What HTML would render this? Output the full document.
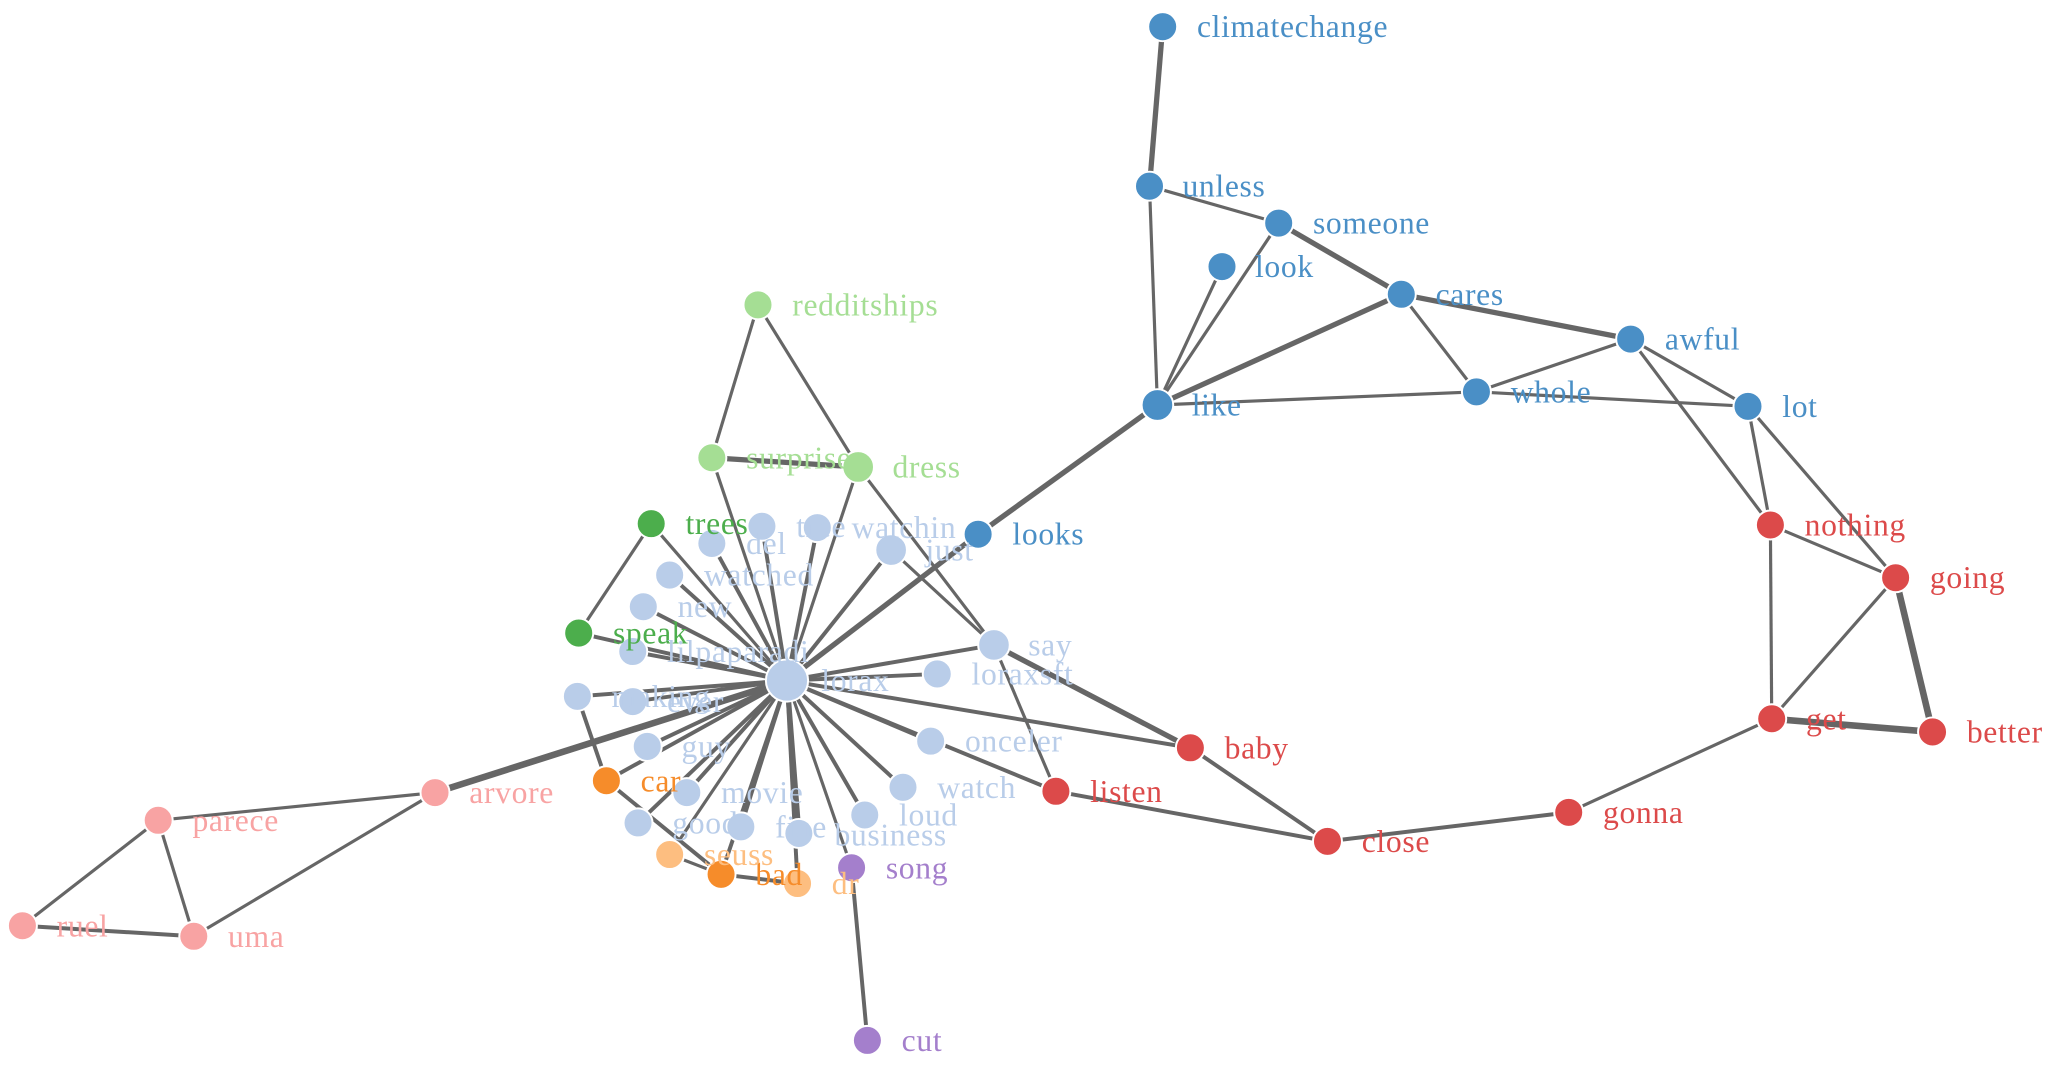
<!DOCTYPE html>
<html><head><meta charset="utf-8"><style>
html,body{margin:0;padding:0;background:#fff;}
svg{display:block}
text{font-family:"Liberation Serif",serif;font-size:24px;letter-spacing:0.5px}
</style></head><body>
<svg width="2067" height="1075" viewBox="0 0 1568 815" xmlns="http://www.w3.org/2000/svg">
<g stroke="#666" stroke-width="2.4" fill="none">
<line x1="882" y1="20" x2="872" y2="141" stroke-width="4"/>
<line x1="872" y1="141" x2="970" y2="169"/>
<line x1="872" y1="141" x2="878" y2="307"/>
<line x1="970" y1="169" x2="878" y2="307"/>
<line x1="927" y1="202" x2="878" y2="307"/>
<line x1="970" y1="169" x2="1063" y2="223" stroke-width="4"/>
<line x1="1063" y1="223" x2="878" y2="307" stroke-width="4"/>
<line x1="1063" y1="223" x2="1237" y2="257" stroke-width="4"/>
<line x1="1063" y1="223" x2="1120" y2="297"/>
<line x1="1237" y1="257" x2="1120" y2="297"/>
<line x1="1120" y1="297" x2="878" y2="307"/>
<line x1="1120" y1="297" x2="1326" y2="308"/>
<line x1="1237" y1="257" x2="1326" y2="308"/>
<line x1="1237" y1="257" x2="1343" y2="398"/>
<line x1="1326" y1="308" x2="1343" y2="398"/>
<line x1="1326" y1="308" x2="1438" y2="438"/>
<line x1="878" y1="307" x2="742" y2="405" stroke-width="4"/>
<line x1="742" y1="405" x2="597" y2="516" stroke-width="4"/>
<line x1="1343" y1="398" x2="1438" y2="438"/>
<line x1="1343" y1="398" x2="1344" y2="545"/>
<line x1="1438" y1="438" x2="1344" y2="545"/>
<line x1="1438" y1="438" x2="1466" y2="555" stroke-width="5"/>
<line x1="1344" y1="545" x2="1466" y2="555" stroke-width="5"/>
<line x1="1344" y1="545" x2="1190" y2="616"/>
<line x1="1190" y1="616" x2="1007" y2="638" stroke-width="3"/>
<line x1="1007" y1="638" x2="903" y2="567" stroke-width="3"/>
<line x1="1007" y1="638" x2="801" y2="600" stroke-width="3"/>
<line x1="903" y1="567" x2="754" y2="489" stroke-width="4"/>
<line x1="903" y1="567" x2="597" y2="516" stroke-width="3"/>
<line x1="801" y1="600" x2="754" y2="489"/>
<line x1="801" y1="600" x2="597" y2="516" stroke-width="3"/>
<line x1="575" y1="231" x2="540" y2="347"/>
<line x1="575" y1="231" x2="651" y2="354"/>
<line x1="540" y1="347" x2="651" y2="354" stroke-width="4"/>
<line x1="540" y1="347" x2="597" y2="516"/>
<line x1="651" y1="354" x2="597" y2="516"/>
<line x1="651" y1="354" x2="754" y2="489"/>
<line x1="494" y1="397" x2="439" y2="480"/>
<line x1="494" y1="397" x2="597" y2="516"/>
<line x1="439" y1="480" x2="597" y2="516" stroke-width="3"/>
<line x1="330" y1="601" x2="597" y2="516" stroke-width="5"/>
<line x1="330" y1="601" x2="120" y2="622"/>
<line x1="330" y1="601" x2="147" y2="710"/>
<line x1="120" y1="622" x2="17" y2="702"/>
<line x1="120" y1="622" x2="147" y2="710"/>
<line x1="17" y1="702" x2="147" y2="710" stroke-width="3"/>
<line x1="646" y1="658" x2="658" y2="789" stroke-width="3"/>
<line x1="646" y1="658" x2="597" y2="516"/>
<line x1="460" y1="592" x2="438" y2="528" stroke-width="3"/>
<line x1="460" y1="592" x2="597" y2="516" stroke-width="3"/>
<line x1="460" y1="592" x2="547" y2="663" stroke-width="3"/>
<line x1="508" y1="648" x2="547" y2="663"/>
<line x1="547" y1="663" x2="605" y2="670" stroke-width="3"/>
<line x1="605" y1="670" x2="597" y2="516" stroke-width="3"/>
<line x1="547" y1="663" x2="597" y2="516" stroke-width="3"/>
<line x1="508" y1="648" x2="597" y2="516"/>
<line x1="540" y1="412" x2="597" y2="516" stroke-width="3"/>
<line x1="578" y1="399" x2="597" y2="516" stroke-width="3"/>
<line x1="620" y1="400" x2="597" y2="516" stroke-width="3"/>
<line x1="676" y1="417" x2="597" y2="516" stroke-width="3"/>
<line x1="676" y1="417" x2="754" y2="489"/>
<line x1="508" y1="436" x2="597" y2="516" stroke-width="3"/>
<line x1="488" y1="460" x2="597" y2="516" stroke-width="3"/>
<line x1="480" y1="494" x2="597" y2="516" stroke-width="3"/>
<line x1="438" y1="528" x2="597" y2="516" stroke-width="3"/>
<line x1="480" y1="532" x2="597" y2="516" stroke-width="3"/>
<line x1="754" y1="489" x2="597" y2="516" stroke-width="3"/>
<line x1="711" y1="511" x2="597" y2="516" stroke-width="3"/>
<line x1="491" y1="566" x2="597" y2="516" stroke-width="3"/>
<line x1="706" y1="562" x2="597" y2="516" stroke-width="3"/>
<line x1="521" y1="601" x2="597" y2="516" stroke-width="3"/>
<line x1="484" y1="624" x2="597" y2="516" stroke-width="3"/>
<line x1="562" y1="627" x2="597" y2="516" stroke-width="3"/>
<line x1="606" y1="632" x2="597" y2="516" stroke-width="4"/>
<line x1="685" y1="597" x2="597" y2="516" stroke-width="3"/>
<line x1="656" y1="618" x2="597" y2="516" stroke-width="3"/>
</g>
<g stroke="#fff" stroke-width="1.5">
<g fill="#4a8fc6">
<circle cx="882" cy="20" r="11"/><circle cx="872" cy="141" r="11"/><circle cx="970" cy="169" r="11"/>
<circle cx="927" cy="202" r="11"/><circle cx="1063" cy="223" r="11"/><circle cx="1237" cy="257" r="11"/>
<circle cx="878" cy="307" r="12"/><circle cx="1120" cy="297" r="11"/><circle cx="1326" cy="308" r="11"/>
<circle cx="742" cy="405" r="11"/>
</g>
<g fill="#dc4a4a">
<circle cx="1343" cy="398" r="11"/><circle cx="1438" cy="438" r="11"/><circle cx="1344" cy="545" r="11"/>
<circle cx="1466" cy="555" r="11"/><circle cx="903" cy="567" r="11"/><circle cx="801" cy="600" r="11"/>
<circle cx="1007" cy="638" r="11"/><circle cx="1190" cy="616" r="11"/>
</g>
<g fill="#a5de94"><circle cx="575" cy="231" r="11"/><circle cx="540" cy="347" r="11"/><circle cx="651" cy="354" r="12"/></g>
<g fill="#4cae4c"><circle cx="494" cy="397" r="11"/><circle cx="439" cy="480" r="11"/></g>
<g fill="#f8a3a3"><circle cx="330" cy="601" r="11"/><circle cx="120" cy="622" r="11"/><circle cx="17" cy="702" r="11"/><circle cx="147" cy="710" r="11"/></g>
<g fill="#a47fcc"><circle cx="646" cy="658" r="11"/><circle cx="658" cy="789" r="11"/></g>
<g fill="#f68c2a"><circle cx="460" cy="592" r="11"/><circle cx="547" cy="663" r="11"/></g>
<g fill="#fdbe80"><circle cx="508" cy="648" r="11"/><circle cx="605" cy="670" r="11"/></g>
<g fill="#b9cde9">
<circle cx="540" cy="412" r="11"/><circle cx="578" cy="399" r="11"/><circle cx="620" cy="400" r="11"/>
<circle cx="676" cy="417" r="12"/><circle cx="508" cy="436" r="11"/><circle cx="488" cy="460" r="11"/>
<circle cx="480" cy="494" r="11"/><circle cx="438" cy="528" r="11"/><circle cx="480" cy="532" r="11"/>
<circle cx="754" cy="489" r="12"/><circle cx="711" cy="511" r="11"/><circle cx="491" cy="566" r="11"/>
<circle cx="706" cy="562" r="11"/><circle cx="521" cy="601" r="11"/><circle cx="484" cy="624" r="11"/>
<circle cx="562" cy="627" r="11"/><circle cx="606" cy="632" r="11"/><circle cx="685" cy="597" r="11"/>
<circle cx="656" cy="618" r="11"/><circle cx="597" cy="516" r="16"/>
</g>
</g>
<g fill="#4a8fc6">
<text x="908" y="28">climatechange</text><text x="897" y="149">unless</text><text x="996" y="177">someone</text>
<text x="952" y="210">look</text><text x="1089" y="231">cares</text><text x="1263" y="265">awful</text>
<text x="904" y="315">like</text><text x="1146" y="305">whole</text><text x="1352" y="316">lot</text>
<text x="768" y="413">looks</text>
</g>
<g fill="#dc4a4a">
<text x="1369" y="406">nothing</text><text x="1464" y="446">going</text><text x="1370" y="553">get</text>
<text x="1492" y="563">better</text><text x="929" y="575">baby</text><text x="827" y="608">listen</text>
<text x="1033" y="646">close</text><text x="1216" y="624">gonna</text>
</g>
<g fill="#a5de94"><text x="601" y="239">redditships</text><text x="566" y="355">surprise</text><text x="677" y="362">dress</text></g>
<g fill="#4cae4c"><text x="520" y="405">trees</text><text x="465" y="488">speak</text></g>
<g fill="#f8a3a3"><text x="356" y="609">arvore</text><text x="146" y="630">parece</text><text x="43" y="710">ruel</text><text x="173" y="718">uma</text></g>
<g fill="#a47fcc"><text x="672" y="666">song</text><text x="684" y="797">cut</text></g>
<g fill="#f68c2a"><text x="486" y="600">car</text><text x="573" y="671">bad</text></g>
<g fill="#fdbe80"><text x="534" y="656">seuss</text><text x="631" y="678">dr</text></g>
<g fill="#b9cde9">
<text x="566" y="420">del</text><text x="604" y="407">tree</text><text x="646" y="408">watchin</text>
<text x="702" y="425">just</text><text x="534" y="444">watched</text><text x="514" y="468">new</text>
<text x="506" y="502">lilpaparadi</text><text x="464" y="536">making</text><text x="506" y="540">ever</text>
<text x="780" y="497">say</text><text x="737" y="519">loraxsft</text><text x="517" y="574">guy</text>
<text x="732" y="570">onceler</text><text x="547" y="609">movie</text><text x="510" y="632">good</text>
<text x="588" y="635">fine</text><text x="633" y="641">business</text><text x="711" y="605">watch</text>
<text x="682" y="626">loud</text><text x="623" y="524">lorax</text>
</g>
</svg>
</body></html>
